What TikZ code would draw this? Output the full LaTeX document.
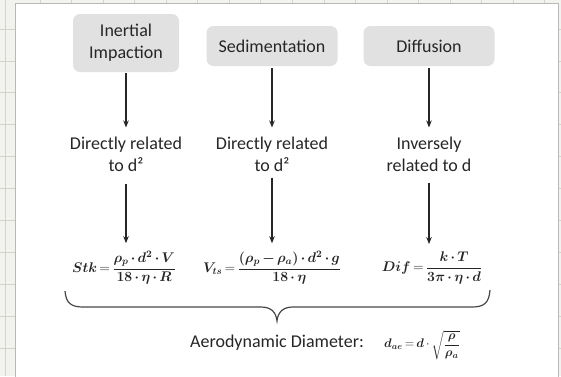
\RequirePackage{fix-cm}
\documentclass[tikz,border=0pt]{standalone}
\usepackage{amsmath}
\usepackage{bm}
\usepackage{fontspec}
\setmainfont{Carlito}
\usetikzlibrary{arrows.meta}
\definecolor{bgc}{HTML}{F2F2EE}
\definecolor{gridc}{HTML}{D3D3CB}
\definecolor{boxc}{HTML}{E1E1E1}
\definecolor{txt}{HTML}{262626}
\newcommand\eqspacing{\thickmuskip=3mu\relax\medmuskip=3mu\relax}
\begin{document}
\begin{tikzpicture}[x=1pt,y=-1pt,
  catbox/.style={fill=boxc, rounded corners=7pt, align=center, font=\fontsize{18}{22}\selectfont, text=txt, inner sep=0pt},
  relnote/.style={align=center, font=\fontsize{18}{22}\selectfont, text=txt, inner sep=0pt},
  eqn/.style={font=\fontsize{14}{17}\selectfont, text=txt, inner sep=0pt},
  smalleqn/.style={font=\fontsize{12.5}{15}\selectfont, text=txt, inner sep=0pt},
  flow/.style={-{Stealth[length=7pt,width=5.5pt]}, line width=1.1pt, draw=txt},
  bracestyle/.style={line width=1.2pt, draw=txt!85},
]
\useasboundingbox (0,0) rectangle (561,376);
\fill[bgc] (0,0) rectangle (561,376);
\foreach \k in {0,...,16} \draw[gridc, line width=0.8pt] ({40+31.55*\k},0) -- ({40+31.55*\k},376);
\foreach \k in {0,...,10} \draw[gridc, line width=0.8pt] (0,{29+31.9*\k}) -- (561,{29+31.9*\k});
\draw[gridc, line width=0.8pt] (5.5,0) -- (5.5,376);
\draw[fill=white, draw=gray!55, line width=0.6pt] (15,3) rectangle (558,378);

% category boxes
\node[catbox, minimum width=106pt, minimum height=58pt] (b1) at (126,43) {Inertial\\Impaction};
\node[catbox, minimum width=131pt, minimum height=40pt] (b2) at (272,46) {Sedimentation};
\node[catbox, minimum width=131pt, minimum height=40pt] (b3) at (429,46) {Diffusion};

% relations
\node[relnote] (t1) at (126,154) {Directly related\\to d²};
\node[relnote] (t2) at (272,154) {Directly related\\to d²};
\node[relnote] (t3) at (429,154) {Inversely\\related to d};

% formulas
\node[eqn] (f1) at (124,268) {$\eqspacing\displaystyle \bm{Stk}=\frac{\bm{\rho_p\cdot d^2\cdot V}}{\bm{18\cdot\eta\cdot R}}$};
\node[eqn] (f2) at (272,268) {$\eqspacing\displaystyle \bm{V_{ts}}=\frac{\bm{(\rho_p-\rho_a)\cdot d^2\cdot g}}{\bm{18\cdot\eta}}$};
\node[eqn] (f3) at (432,268) {$\eqspacing\displaystyle \bm{Dif}=\frac{\bm{k\cdot T}}{\bm{3\pi\cdot\eta\cdot d}}$};

% arrows
\draw[flow, shorten <=1pt, shorten >=9pt] (b1.south) -- (t1.north);
\draw[flow, shorten <=2pt, shorten >=9pt] (b2.south) -- (t2.north);
\draw[flow, shorten <=2pt, shorten >=9pt] (b3.south) -- (t3.north);
\draw[flow, shorten <=12pt, shorten >=8pt] (t1.south) -- (t1.south |- f1.north);
\draw[flow, shorten <=6pt, shorten >=8pt] (t2.south) -- (t2.south |- f2.north);
\draw[flow, shorten <=11pt, shorten >=8pt] (t3.south) -- (t3.south |- f3.north);

% brace
\draw[bracestyle] (65,291) .. controls (66,303) and (71,307) .. (83,307)
  -- (261,307) .. controls (271,307) and (276,312) .. (277,321)
  .. controls (278,312) and (283,307) .. (293,307)
  -- (472,307) .. controls (484,307) and (489,303) .. (490,290);

% aerodynamic diameter
\node[relnote] (ad) at (277,343) {Aerodynamic Diameter:};
\node[smalleqn, anchor=west] (ae) at ([xshift=20pt,yshift=-2pt]ad.east) {$\eqspacing\displaystyle \bm{d_{ae}}=\bm{d}\cdot\sqrt{\frac{\bm{\rho}}{\bm{\rho_a}}}$};
\end{tikzpicture}
\end{document}
